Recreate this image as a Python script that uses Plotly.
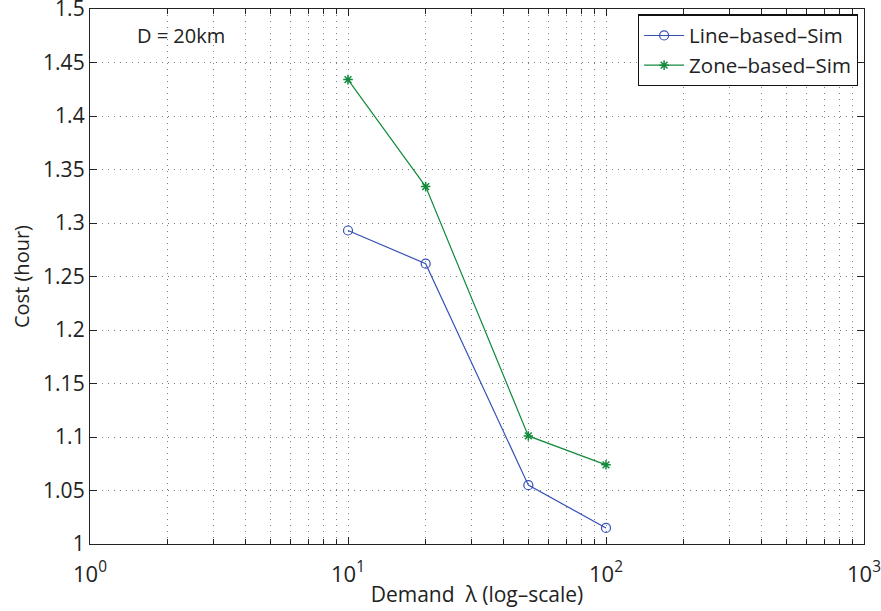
import plotly.graph_objects as go

demand = [10, 20, 50, 100]
line_based = [1.293, 1.262, 1.055, 1.015]
zone_based = [1.434, 1.334, 1.101, 1.074]
names = ["Line\u2013based\u2013Sim", "Zone\u2013based\u2013Sim"]
y_ticks = [1, 1.05, 1.1, 1.15, 1.2, 1.25, 1.3, 1.35, 1.4, 1.45, 1.5]
y_ticktext = ["1", "1.05", "1.1", "1.15", "1.2", "1.25", "1.3", "1.35", "1.4", "1.45", "1.5"]
x_ticks = [1, 10, 100, 1000]
x_ticktext = ["10<sup>0</sup>", "10<sup>1</sup>", "10<sup>2</sup>", "10<sup>3</sup>"]

FONT = "Open Sans, Noto Sans, sans-serif"
BLUE = "#3550b5"
GREEN = "#138a3c"
GRID = "#808080"

fig = go.Figure()
fig.add_trace(go.Scatter(x=demand, y=line_based, name=names[0], mode="lines+markers",
                         line=dict(color=BLUE, width=1.2),
                         marker=dict(symbol="circle-open", size=9, color=BLUE, line=dict(width=1.2))))
fig.add_trace(go.Scatter(x=demand, y=zone_based, name=names[1], mode="lines+markers",
                         line=dict(color=GREEN, width=1.2),
                         marker=dict(symbol="asterisk-open", size=8, color=GREEN, line=dict(width=1.5, color=GREEN))))

fig.update_layout(
    width=881, height=611,
    margin=dict(l=89.5, r=17, t=9, b=67),
    paper_bgcolor="white", plot_bgcolor="white",
    font=dict(family=FONT, size=20, color="#222"),
    showlegend=True,
    legend=dict(x=0.992, y=0.99, xanchor="right", yanchor="top",
                bordercolor="#111", borderwidth=1.3, bgcolor="white",
                font=dict(size=20.5, family=FONT), tracegroupgap=0,
                itemwidth=40),
    annotations=[dict(text="D = 20km", x=0.058, y=0.95, xref="paper", yref="paper",
                      xanchor="left", yanchor="middle", showarrow=False,
                      font=dict(size=20, family=FONT, color="#222"))],
)
fig.update_xaxes(
    type="log", range=[0, 3], automargin=False,
    tickvals=x_ticks, ticktext=x_ticktext,
    ticks="inside", ticklen=7, tickcolor="#222", tickfont=dict(size=22),
    ticklabelstandoff=10, ticklabeloverflow="allow",
    showline=True, linecolor="#222", linewidth=1.3, mirror="ticks",
    showgrid=True, gridcolor=GRID, griddash="1px,5px", gridwidth=1,
    minor=dict(ticks="inside", ticklen=5, tickcolor="#222", showgrid=True,
               gridcolor=GRID, griddash="1px,5px", gridwidth=1, dtick="D1"),
    title=dict(text="Demand  \u03bb (log\u2013scale)", font=dict(size=21), standoff=0),
    zeroline=False,
)
fig.update_yaxes(
    range=[1, 1.5], tickvals=y_ticks, ticktext=y_ticktext, automargin=False,
    ticks="inside", ticklen=7, tickcolor="#222", tickfont=dict(size=21),
    ticklabeloverflow="allow",
    showline=True, linecolor="#222", linewidth=1.3, mirror="ticks",
    showgrid=True, gridcolor=GRID, griddash="1px,5px", gridwidth=1,
    title=dict(text="Cost (hour)", font=dict(size=20), standoff=8),
    zeroline=False,
)

fig.write_html("out.html")
